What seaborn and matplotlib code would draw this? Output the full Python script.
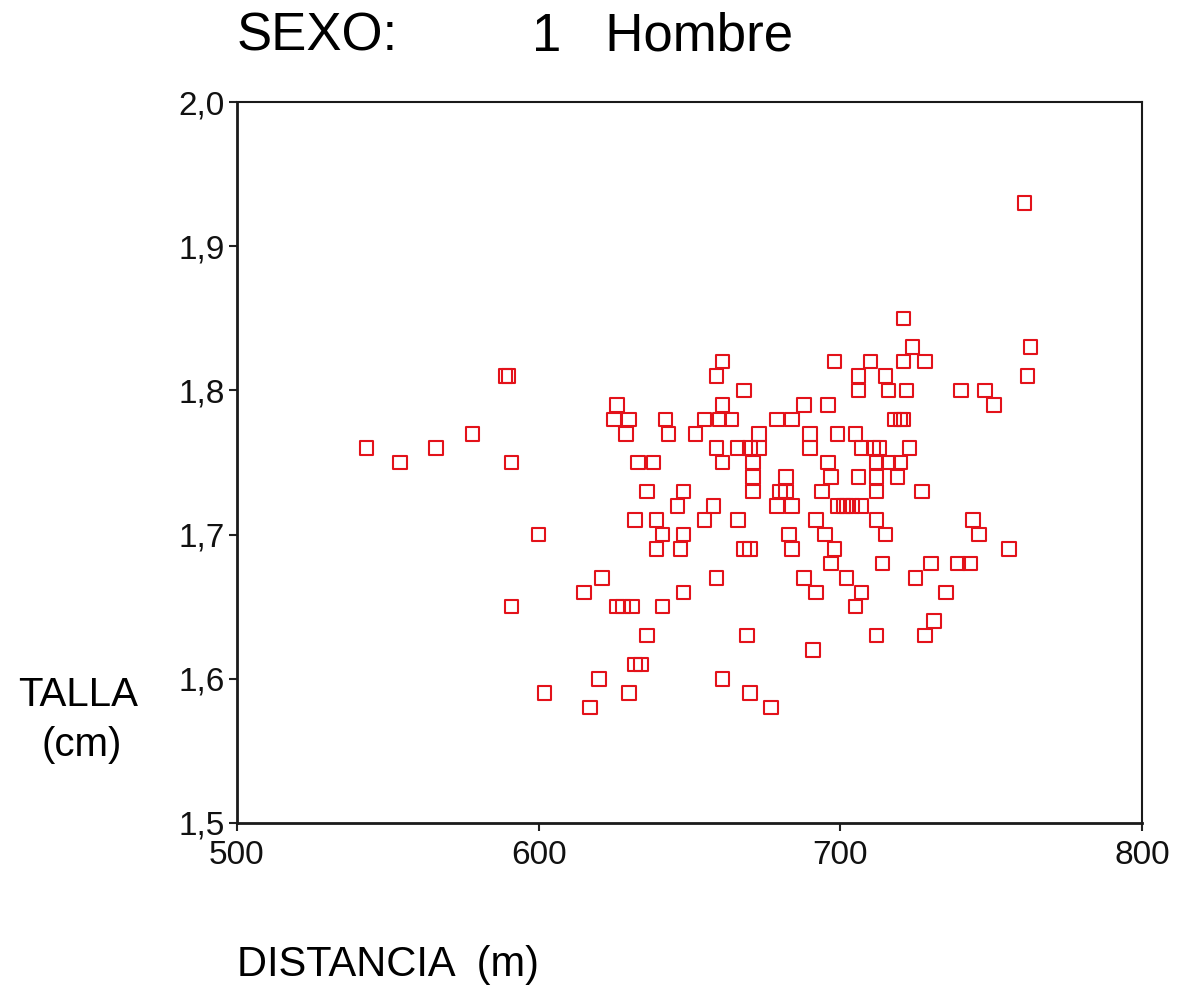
import matplotlib
matplotlib.use("Agg")
import matplotlib.pyplot as plt
import seaborn as sns
import pandas as pd

# valores, agrupados por talla
talla_filas = {
    1.93: [761],
    1.85: [721],
    1.83: [724, 763],
    1.82: [661, 698, 710, 721, 728],
    1.81: [589, 590, 659, 706, 715, 762],
    1.80: [668, 706, 716, 722, 740, 748],
    1.79: [626, 661, 688, 696, 751],
    1.78: [625, 630, 642, 655, 660, 664, 679, 684, 718, 720, 721],
    1.77: [578, 629, 643, 652, 673, 690, 699, 705],
    1.76: [543, 566, 659, 666, 670, 673, 690, 707, 711, 713, 723],
    1.75: [554, 591, 633, 638, 661, 671, 696, 712, 716, 720],
    1.74: [671, 682, 697, 706, 712, 719],
    1.73: [636, 648, 671, 680, 682, 694, 712, 727],
    1.72: [646, 658, 679, 684, 699, 701, 702, 704, 707],
    1.71: [632, 639, 655, 666, 692, 712, 744],
    1.70: [600, 641, 648, 683, 695, 715, 746],
    1.69: [639, 647, 668, 670, 684, 698, 756],
    1.68: [697, 714, 730, 739, 743],
    1.67: [621, 659, 688, 702, 725],
    1.66: [615, 648, 692, 707, 735],
    1.65: [591, 626, 628, 631, 641, 705],
    1.64: [731],
    1.63: [636, 669, 712, 728],
    1.62: [691],
    1.61: [632, 634],
    1.60: [620, 661],
    1.59: [602, 630, 670],
    1.58: [617, 677],
}

distancia = [d for t, ds in talla_filas.items() for d in ds]
talla = [t for t, ds in talla_filas.items() for d in ds]

x_ticks = [500, 600, 700, 800]
y_ticks = [1.5, 1.6, 1.7, 1.8, 1.9, 2.0]
y_tick_labels = ["1,5", "1,6", "1,7", "1,8", "1,9", "2,0"]

df = pd.DataFrame({"DISTANCIA": distancia, "TALLA": talla})

sns.set_style("ticks")
plt.rcParams["font.family"] = ["Liberation Sans", "DejaVu Sans"]
plt.rcParams["text.color"] = "black"

fig = plt.figure(figsize=(11.79, 9.92), dpi=100)
ax = fig.add_axes([0.201, 0.1704, 0.7676, 0.7266])

sns.scatterplot(data=df, x="DISTANCIA", y="TALLA", ax=ax, marker="s",
                s=95, facecolors="none", edgecolor="#e3121a", linewidth=1.5)

ax.set_xlim(500, 800)
ax.set_ylim(1.5, 2.0)
ax.set_xticks(x_ticks)
ax.set_xticklabels([str(v) for v in x_ticks])
ax.set_yticks(y_ticks)
ax.set_yticklabels(y_tick_labels)
ax.tick_params(axis="both", labelsize=24, length=6, width=1.5, color="#222222",
               labelcolor="#111111", direction="out")
ax.tick_params(axis="x", pad=6)
ax.tick_params(axis="y", pad=3)
ax.set_xlabel("")
ax.set_ylabel("")

for side in ["left", "bottom"]:
    ax.spines[side].set_linewidth(2.0)
for side in ["top", "right"]:
    ax.spines[side].set_visible(True)
    ax.spines[side].set_linewidth(1.5)
for sp in ax.spines.values():
    sp.set_color("#1a1a1a")

fig.text(0.201, 0.963, "SEXO:", fontsize=38, ha="left", va="center")
fig.text(0.451, 0.963, "1   Hombre", fontsize=38, ha="left", va="center")
fig.text(0.066, 0.299, "TALLA", fontsize=29, ha="center", va="center")
fig.text(0.069, 0.249, "(cm)", fontsize=29, ha="center", va="center")
fig.text(0.201, 0.027, "DISTANCIA  (m)", fontsize=30, ha="left", va="center")

fig.savefig("out.png", dpi=100)
